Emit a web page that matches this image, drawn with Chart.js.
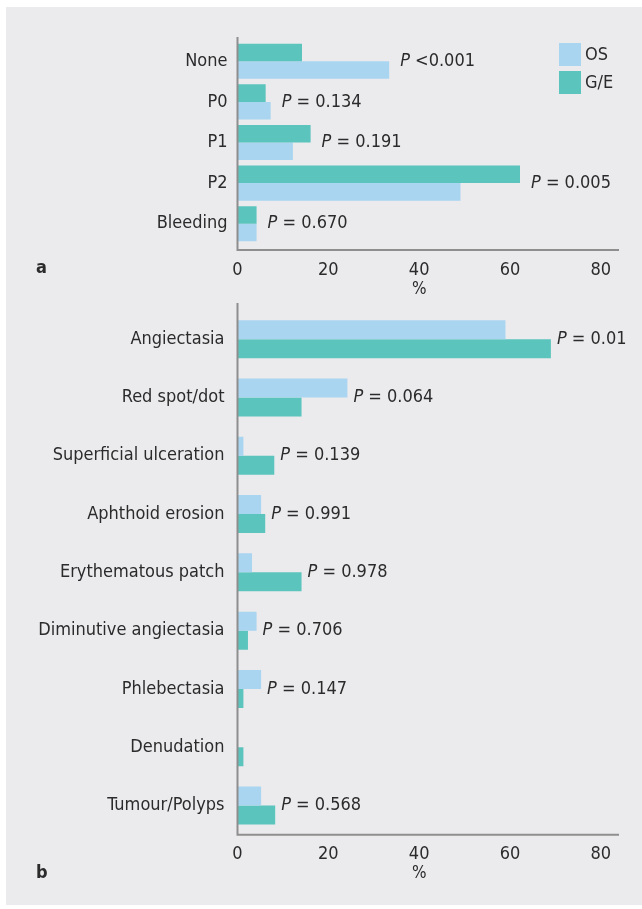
<!DOCTYPE html>
<html>
<head>
<meta charset="utf-8">
<script src="https://cdn.jsdelivr.net/npm/chart.js@4"></script>
<style>
  html, body { margin: 0; padding: 0; background: #fff; }
  #page { position: relative; width: 642px; height: 909px; overflow: hidden; }
  #panel { position: absolute; left: 6px; top: 7px; width: 636px; height: 898px; background: #ebebee; }
  .box { position: absolute; left: 0; width: 642px; }
</style>
</head>
<body>
<div id="page">
  <div id="panel"></div>
  <div class="box" style="top:0;height:300px"><canvas id="chartA"></canvas></div>
  <div class="box" style="top:295px;height:614px"><canvas id="chartB"></canvas></div>
</div>
<script>
// panel a
const catsA = ['None', 'P0', 'P1', 'P2', 'Bleeding'];
const geA = [14.2, 6.2, 16.1, 62.2, 4.2];
const osA = [33.4, 7.3, 12.2, 49.1, 4.2];
const pA = ['<0.001', '= 0.134', '= 0.191', '= 0.005', '= 0.670'];

// panel b
const catsB = ['Angiectasia', 'Red spot/dot', 'Superficial ulceration', 'Aphthoid erosion',
  'Erythematous patch', 'Diminutive angiectasia', 'Phlebectasia', 'Denudation', 'Tumour/Polyps'];
const osB = [59.0, 24.2, 1.3, 5.2, 3.2, 4.2, 5.2, 0, 5.2];
const geB = [69.0, 14.1, 8.1, 6.1, 14.1, 2.3, 1.3, 1.3, 8.3];
const pB = ['= 0.01', '= 0.064', '= 0.139', '= 0.991', '= 0.978', '= 0.706', '= 0.147', '', '= 0.568'];

const xTicks = [0, 20, 40, 60, 80];

const BLUE = '#a9d5f0';
const TEAL = '#5bc4bc';
const AXIS = '#8e8e8e';
const TEXT = '#2b2b2b';
const FONT = "'Liberation Sans Narrow', 'DejaVu Sans Condensed', sans-serif";

const extras = {
  id: 'extras',
  afterDatasetsDraw(chart, args, opts) {
    const ctx = chart.ctx;
    const { left, right, top, bottom } = chart.chartArea;
    const x = chart.scales.x, y = chart.scales.y;
    ctx.save();
    // axis lines
    ctx.strokeStyle = AXIS;
    ctx.lineWidth = 2;
    ctx.beginPath();
    ctx.moveTo(left, top - opts.topExt);
    ctx.lineTo(left, bottom + opts.bottomExt);
    ctx.lineTo(right, bottom + opts.bottomExt);
    ctx.stroke();

    // P values next to the longest bar
    ctx.fillStyle = TEXT;
    ctx.textBaseline = 'middle';
    ctx.textAlign = 'left';
    const sets = chart.data.datasets;
    opts.pvals.forEach((p, i) => {
      if (!p) return;
      const v = Math.max(...sets.map(d => d.data[i]));
      const px = x.getPixelForValue(v) + opts.offset;
      const py = y.getPixelForValue(i);
      ctx.font = 'italic 18px ' + FONT;
      ctx.fillText('P', px, py);
      const w = ctx.measureText('P ').width;
      ctx.font = '18px ' + FONT;
      ctx.fillText(p, px + w, py);
    });

    // axis title at the 40 mark
    ctx.textAlign = 'center';
    ctx.font = '17px ' + FONT;
    ctx.fillText('%', x.getPixelForValue(40), opts.titleY);

    // panel letter
    ctx.textAlign = 'left';
    ctx.font = 'bold 18px ' + FONT;
    ctx.fillText(opts.letter, 36, opts.letterY);

    // legend
    if (opts.legend) {
      const items = [['OS', BLUE], ['G/E', TEAL]];
      items.forEach(([lab, col], k) => {
        const by = 43 + k * 28;
        ctx.fillStyle = col;
        ctx.fillRect(559, by, 22, 23);
        ctx.fillStyle = TEXT;
        ctx.font = '18px ' + FONT;
        ctx.fillText(lab, 585, by + 12);
      });
    }
    ctx.restore();
  }
};

function makeChart(id, cats, datasets, o) {
  return new Chart(document.getElementById(id), {
    type: 'bar',
    data: { labels: cats, datasets: datasets },
    options: {
      indexAxis: 'y',
      responsive: true,
      maintainAspectRatio: false,
      animation: false,
      layout: { padding: { top: o.padTop, right: 23, left: 0, bottom: 0 } },
      datasets: { bar: { categoryPercentage: o.catPct, barPercentage: 1 } },
      scales: {
        x: {
          min: 0, max: 84,
          grid: { display: false, drawTicks: false },
          border: { display: false },
          afterBuildTicks: s => { s.ticks = xTicks.map(v => ({ value: v })); },
          afterFit: s => { s.height = o.xHeight; s.paddingLeft = 0; s.paddingRight = 0; },
          ticks: { color: TEXT, font: { family: FONT, size: 18 }, padding: o.tickPad, maxRotation: 0 }
        },
        y: {
          grid: { display: false, drawTicks: false },
          border: { display: false },
          afterFit: s => { s.width = 237.5; s.paddingTop = 0; s.paddingBottom = 0; },
          ticks: { color: TEXT, font: { family: FONT, size: 18 }, padding: o.labelPad }
        }
      },
      plugins: {
        legend: { display: false },
        tooltip: { enabled: false },
        extras: o.extras
      }
    },
    plugins: [extras]
  });
}

makeChart('chartA', catsA, [
  { label: 'G/E', data: geA, backgroundColor: TEAL },
  { label: 'OS', data: osA, backgroundColor: BLUE }
], {
  padTop: 41, xHeight: 56, catPct: 0.864, tickPad: 16, labelPad: 10,
  extras: { pvals: pA, offset: 11, topExt: 4, bottomExt: 6, titleY: 290, letter: 'a', letterY: 268, legend: true }
});

makeChart('chartB', catsB, [
  { label: 'OS', data: osB, backgroundColor: BLUE },
  { label: 'G/E', data: geB, backgroundColor: TEAL }
], {
  padTop: 15, xHeight: 74.3, catPct: 0.652, tickPad: 9, labelPad: 13,
  extras: { pvals: pB, offset: 6, topExt: 7, bottomExt: 0, titleY: 579, letter: 'b', letterY: 578, legend: false }
});
</script>
</body>
</html>
